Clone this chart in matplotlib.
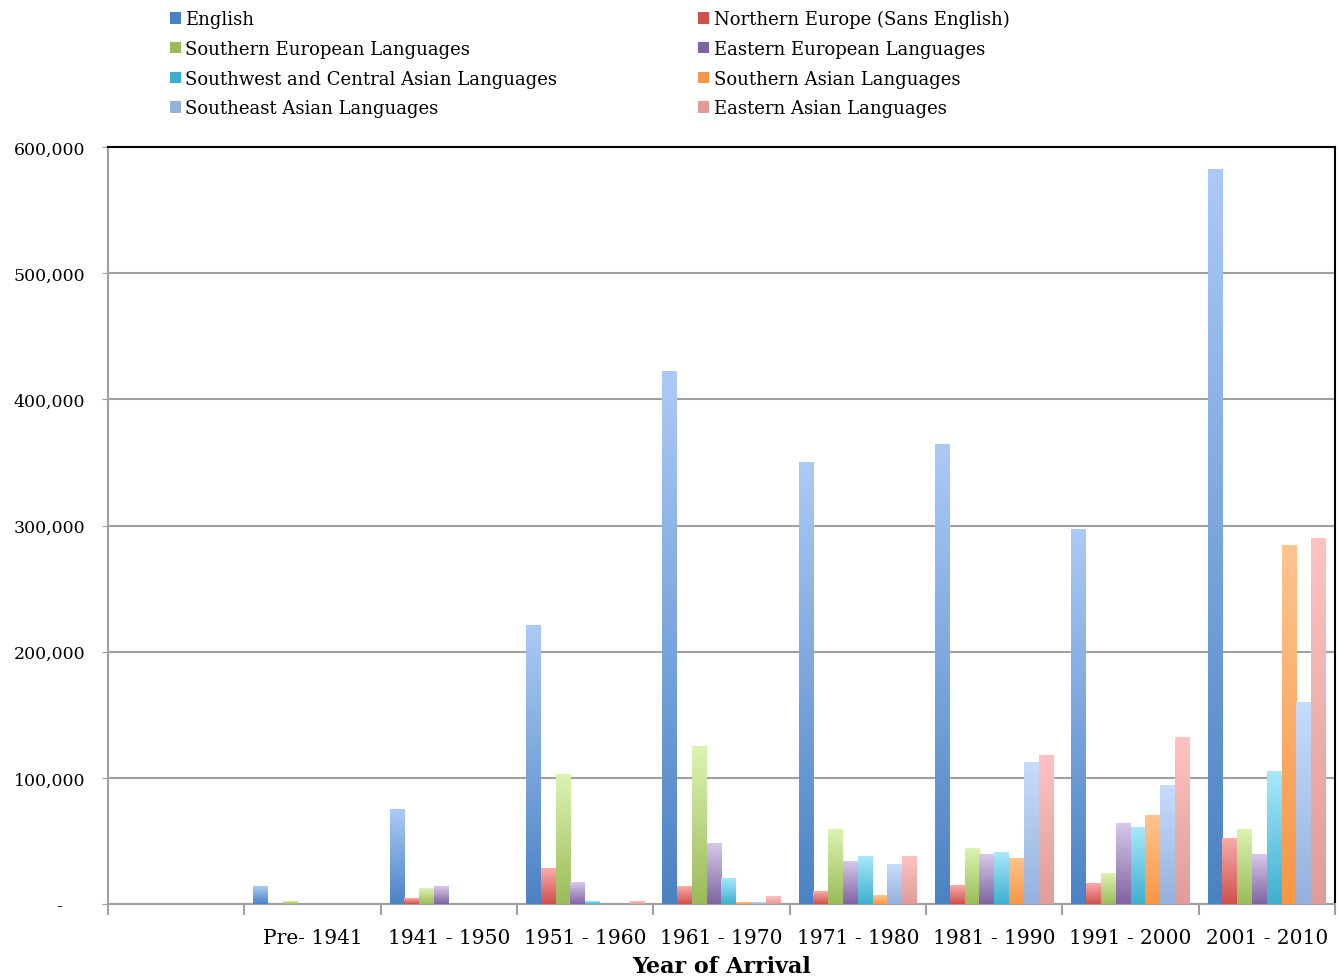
import numpy as np
import matplotlib
matplotlib.use('Agg')
import matplotlib.pyplot as plt
from matplotlib.colors import LinearSegmentedColormap
from matplotlib.patches import Patch
from matplotlib.ticker import FuncFormatter, FixedLocator

plt.rcParams['font.family'] = ['DejaVu Serif']

# categories (first slot is empty in the original chart)
periods = ['', 'Pre- 1941', '1941 - 1950', '1951 - 1960', '1961 - 1970',
           '1971 - 1980', '1981 - 1990', '1991 - 2000', '2001 - 2010']

series_names = ['English', 'Northern Europe (Sans English)',
                'Southern European Languages', 'Eastern European Languages',
                'Southwest and Central Asian Languages', 'Southern Asian Languages',
                'Southeast Asian Languages', 'Eastern Asian Languages']

english      = [0, 14000, 75000, 221000, 422000, 350000, 364000, 297000, 582000]
northern     = [0, 0, 4000, 28000, 14000, 10000, 15000, 16000, 52000]
southern_eu  = [0, 2000, 12000, 103000, 125000, 59000, 44000, 24500, 59000]
eastern_eu   = [0, 0, 14000, 17000, 48000, 34000, 39000, 64000, 39000]
sw_central   = [0, 0, 0, 2000, 20000, 38000, 41000, 61000, 105000]
southern_as  = [0, 0, 0, 0, 1000, 7000, 36000, 70500, 284500]
southeast_as = [0, 0, 0, 0, 1500, 31000, 112000, 94000, 160000]
eastern_as   = [0, 0, 0, 2000, 6000, 38000, 118000, 132000, 290000]

values = [english, northern, southern_eu, eastern_eu,
          sw_central, southern_as, southeast_as, eastern_as]

# (bottom colour, top colour) for the gradient fill
grads = [('#4A82C3', '#ACCAF6'), ('#CF504C', '#F8ACAA'),
         ('#9BBB59', '#DCF3B2'), ('#8064A2', '#D6C8EA'),
         ('#3DB0CE', '#A9E8FB'), ('#F79646', '#FFC48E'),
         ('#95B1DC', '#C8DCFB'), ('#E09C9C', '#FFC2C2')]

fig = plt.figure(figsize=(13.4, 9.79), dpi=100)
ax = fig.add_axes([108/1340, 1 - 905/979, (1335-108)/1340, (905-148)/979])

n = len(values)
group_w = 0.87
bw = group_w / n
x = np.arange(len(periods))
grad = np.linspace(0, 1, 256).reshape(-1, 1)

for i, (vals, (c0, c1)) in enumerate(zip(values, grads)):
    cmap = LinearSegmentedColormap.from_list('g%d' % i, [c0, c1])
    for xi, v in zip(x, vals):
        if v <= 0:
            continue
        left = xi - group_w/2 + i*bw
        ax.imshow(grad, extent=[left, left + bw, 0, v], origin='lower',
                  cmap=cmap, aspect='auto', zorder=3, interpolation='bilinear')

ax.set_xlim(-0.5, len(periods) - 0.5)
ax.set_ylim(0, 600000)

# y axis
ax.yaxis.set_major_locator(FixedLocator(np.arange(0, 600001, 100000)))
ax.yaxis.set_major_formatter(FuncFormatter(lambda v, p: '-    ' if v == 0 else f'{int(v):,}'))
ax.tick_params(axis='y', length=4.5, color='#A0A0A0', labelsize=12.5, pad=12)
ax.grid(axis='y', color='#A0A0A0', linewidth=1.5, zorder=0)
ax.set_axisbelow(True)

# x axis: ticks on group boundaries, labels at centres
ax.set_xticks(x)
ax.set_xticklabels(periods, fontsize=14.5)
ax.tick_params(axis='x', length=0, pad=17)
ax.set_xticks(np.arange(-0.5, len(periods)), minor=True)
ax.tick_params(axis='x', which='minor', length=8, width=1.5, color='#A0A0A0')
ax.set_xlabel('Year of Arrival', fontsize=16, fontweight='bold', labelpad=6)

for s in ['left', 'bottom']:
    ax.spines[s].set_color('#A0A0A0')
    ax.spines[s].set_linewidth(1.5)
for s in ['top', 'right']:
    ax.spines[s].set_color('black')
    ax.spines[s].set_linewidth(1.5)

# legend, two columns
order = [0, 2, 4, 6, 1, 3, 5, 7]
handles = [Patch(facecolor=grads[k][0], edgecolor='none') for k in order]
labels = [series_names[k] for k in order]
fig.legend(handles, labels, ncol=2, loc='upper left',
           bbox_to_anchor=(170/1340, 1 - 11/979), frameon=False, fontsize=13,
           handlelength=0.6, handleheight=0.6, handletextpad=0.25,
           columnspacing=7.8, labelspacing=0.65, borderaxespad=0, borderpad=0)

fig.savefig('out.png', dpi=100)
